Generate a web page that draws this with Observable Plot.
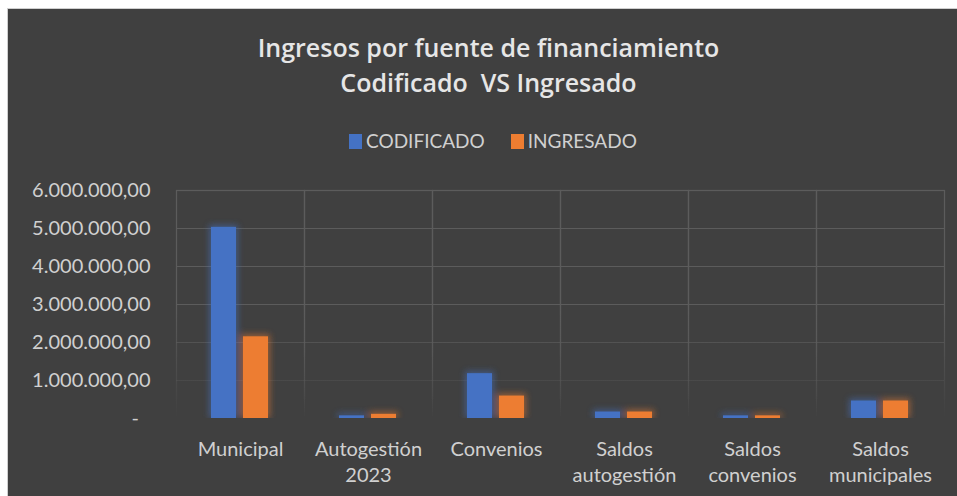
<!DOCTYPE html>
<html>
<head>
<meta charset="utf-8">
<script src="https://cdn.jsdelivr.net/npm/d3@7"></script>
<script src="https://cdn.jsdelivr.net/npm/@observablehq/plot@0.6"></script>
<style>
  html, body { margin: 0; padding: 0; background: #ffffff; }
  body { width: 957px; height: 496px; position: relative; overflow: hidden; font-family: Lato, "Open Sans", sans-serif; }
  #panel { position: absolute; left: 7px; top: 8px; width: 960px; height: 500px; background: #404040; border-left: 1px solid #cfcfcf; border-top: 1px solid #cfcfcf; }
  #title { position: absolute; left: 0; top: 30px; width: 977px; text-align: center; color: #e6e6e6; font-family: "Open Sans", Lato, sans-serif; font-weight: 600; font-size: 25px; line-height: 35px; }
  #legend { position: absolute; left: 349px; top: 128px; display: flex; align-items: center; color: #d0d0d0; font-size: 19px; line-height: 26px; }
  #legend .item { display: flex; align-items: center; margin-right: 26px; }
  #legend .sw { width: 13px; height: 15px; margin-right: 4px; }
  #chart { position: absolute; left: 0; top: 170px; }
</style>
</head>
<body>
<svg width="0" height="0" style="position:absolute">
  <defs>
    <linearGradient id="fade" gradientUnits="userSpaceOnUse" x1="0" y1="20" x2="0" y2="248">
      <stop offset="0" stop-color="#5c5c5c" stop-opacity="1"/>
      <stop offset="0.5" stop-color="#5c5c5c" stop-opacity="1"/>
      <stop offset="0.83" stop-color="#5c5c5c" stop-opacity="0.35"/>
      <stop offset="1" stop-color="#5c5c5c" stop-opacity="0"/>
    </linearGradient>
    <filter id="glow" filterUnits="userSpaceOnUse" x="-2000" y="0" width="5000" height="248">
      <feMorphology in="SourceGraphic" operator="dilate" radius="2" result="d"/>
      <feGaussianBlur in="d" stdDeviation="3" result="b"/>
      <feComponentTransfer in="b" result="f"><feFuncA type="linear" slope="0.5"/></feComponentTransfer>
      <feMerge><feMergeNode in="f"/><feMergeNode in="SourceGraphic"/></feMerge>
    </filter>
  </defs>
</svg>
<div id="panel"></div>
<div id="title">Ingresos por fuente de financiamiento<br>Codificado&nbsp; VS Ingresado</div>
<div id="legend"></div>
<div id="chart"></div>
<script>
const categories = ["Municipal", "Autogestión 2023", "Convenios", "Saldos autogestión", "Saldos convenios", "Saldos municipales"];
const categoryLabels = ["Municipal", "Autogestión\n2023", "Convenios", "Saldos\nautogestión", "Saldos\nconvenios", "Saldos\nmunicipales"];
const series = ["CODIFICADO", "INGRESADO"];
const codificado = [5030000, 70000, 1180000, 170000, 70000, 460000];
const ingresado = [2150000, 110000, 590000, 170000, 70000, 460000];
const yTicks = [0, 1000000, 2000000, 3000000, 4000000, 5000000, 6000000];
const seriesColors = ["#4472C4", "#ED7D31"];

const locale = d3.formatLocale({decimal: ",", thousands: ".", grouping: [3], currency: ["", ""]});
const fmt = locale.format(",.2f");
const tickFormat = d => d === 0 ? "-\u2007" : fmt(d);

const table = categories.flatMap((c, i) => [
  {category: c, series: series[0], value: codificado[i]},
  {category: c, series: series[1], value: ingresado[i]}
]);
const labelRows = categories.map((c, i) => ({category: c, label: categoryLabels[i]}));

// legend
const legend = document.getElementById("legend");
series.forEach((s, i) => {
  const item = document.createElement("div");
  item.className = "item";
  const sw = document.createElement("div");
  sw.className = "sw";
  sw.style.background = seriesColors[i];
  const t = document.createElement("span");
  t.textContent = s;
  item.appendChild(sw); item.appendChild(t);
  legend.appendChild(item);
});

const chart = Plot.plot({
  width: 957,
  height: 326,
  marginTop: 20,
  marginBottom: 78,
  marginLeft: 176,
  marginRight: 13,
  style: {background: "transparent", color: "#d0d0d0", fontFamily: "Lato, 'Open Sans', sans-serif", fontSize: "20px", overflow: "visible"},
  fx: {domain: categories, padding: 0, axis: null, label: null},
  x: {domain: series, axis: null, paddingInner: 0.215, paddingOuter: 1.08},
  y: {domain: [0, 6000000], label: null},
  color: {domain: series, range: seriesColors},
  marks: [
    Plot.gridY(yTicks, {stroke: "url(#fade)", strokeOpacity: 1, strokeWidth: 1.2}),
    Plot.frame({stroke: "url(#fade)", strokeWidth: 1.2}),
    Plot.axisY(yTicks, {tickFormat, tickSize: 0, tickPadding: 26, fontSize: 20, fill: "#d0d0d0", label: null}),
    Plot.barY(table, {fx: "category", x: "series", y: "value", fill: "series"}),
    Plot.text(labelRows, {fx: "category", text: "label", frameAnchor: "bottom", lineAnchor: "top", dy: 19, lineHeight: 1.3, fontSize: 20, fill: "#d0d0d0"})
  ]
});
document.getElementById("chart").appendChild(chart);
chart.querySelectorAll('g[aria-label="bar"]').forEach(g => g.setAttribute("filter", "url(#glow)"));
</script>
</body>
</html>
